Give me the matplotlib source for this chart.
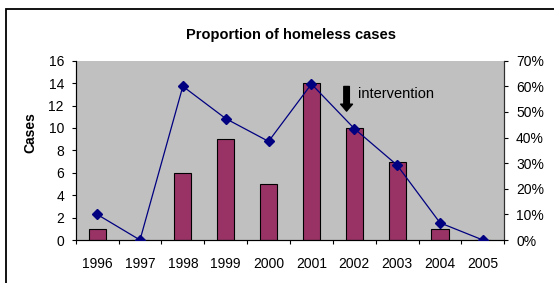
import matplotlib
matplotlib.use("Agg")
import matplotlib.pyplot as plt
from matplotlib.patches import Rectangle
from matplotlib.ticker import FuncFormatter, FixedLocator

plt.rcParams['font.family'] = ['Liberation Sans', 'DejaVu Sans']

years = ['1996', '1997', '1998', '1999', '2000', '2001', '2002', '2003', '2004', '2005']
cases = [1, 0, 6, 9, 5, 14, 10, 7, 1, 0]
proportion = [0.10, 0.0, 0.60, 0.474, 0.385, 0.609, 0.435, 0.292, 0.067, 0.0]

W, H = 554, 283
fig = plt.figure(figsize=(W / 100, H / 100), dpi=100)
fig.patch.set_facecolor('white')

# outer chart frame (runs off the right and bottom edges)
fig.patches.append(Rectangle((6 / W, -0.1), 1.2, 1 - 9 / H + 0.1,
                             transform=fig.transFigure, fill=False,
                             edgecolor='black', linewidth=1.3))

ax = fig.add_axes([75.7 / W, 1 - 240 / H, 428.6 / W, 179.3 / H])
ax.set_facecolor('#C0C0C0')
xs = list(range(len(years)))
ax.bar(xs, cases, width=0.4, color='#993366', edgecolor='black', linewidth=0.8, zorder=2)
ax.set_xlim(-0.5, len(years) - 0.5)
ax.set_ylim(0, 16)
ax.set_yticks(range(0, 17, 2))
ax.xaxis.set_major_locator(FixedLocator([i - 0.5 for i in range(len(years) + 1)]))
ax.set_xticklabels([])
ax.set_xticks(xs, minor=True)
ax.set_xticklabels(years, minor=True)
ax.tick_params(axis='x', which='major', length=3, direction='out')
ax.tick_params(axis='x', which='minor', length=0, pad=12, labelsize=10)
ax.tick_params(axis='y', length=3, direction='out', labelsize=10, pad=5.5)
ax.spines['top'].set_visible(False)
for s in ['left', 'bottom', 'right']:
    ax.spines[s].set_color('#303030')

ax2 = ax.twinx()
ax2.plot(xs, proportion, color='#000080', linewidth=0.9, marker='D',
         markersize=5, markerfacecolor='#000080', zorder=3)
ax2.set_ylim(0, 0.7)
ax2.set_yticks([i / 10 for i in range(8)])
ax2.yaxis.set_major_formatter(FuncFormatter(lambda v, p: f'{v:.0%}'))
ax2.tick_params(axis='y', length=3, direction='out', labelsize=10, pad=5.5)
ax2.spines['top'].set_visible(False)
ax2.spines['right'].set_color('#303030')

ax.annotate('', xy=(5.82, 11.5), xytext=(5.82, 13.7),
            arrowprops=dict(facecolor='black', edgecolor='black',
                            width=4, headwidth=8.5, headlength=5), zorder=5)
ax.text(6.08, 13.0, 'intervention', fontsize=10.5, va='center', ha='left', zorder=5)

fig.text(290.8 / W, 1 - 35 / H, 'Proportion of homeless cases',
         ha='center', va='center', fontsize=10.5, fontweight='bold')
fig.text(30.7 / W, 1 - 132.7 / H, 'Cases', rotation=90,
         ha='center', va='center', fontsize=10, fontweight='bold')

fig.savefig('out.png', dpi=100)
